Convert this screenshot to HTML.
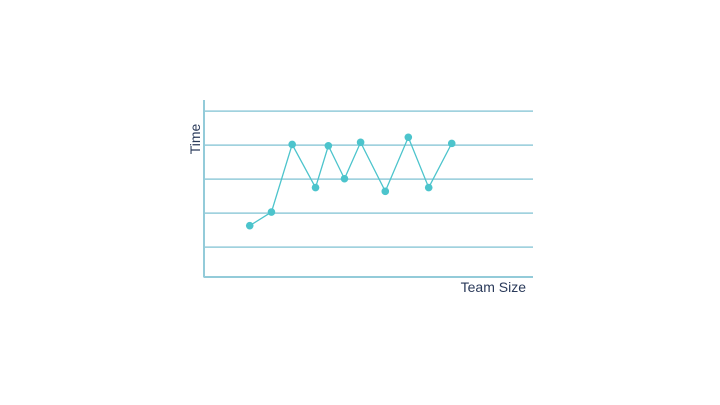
<!DOCTYPE html>
<html><head><meta charset="utf-8"><style>
html,body{margin:0;padding:0;background:#fff;width:720px;height:405px;overflow:hidden}
text{font-family:"Liberation Sans",sans-serif;fill:#2a3a5a}
</style></head><body>
<svg width="720" height="405">
<g id="grid"></g>
<line x1="204" y1="100" x2="204" y2="277.5" stroke="#93cbd9" stroke-width="2"/>
<line x1="204" y1="277" x2="533" y2="277" stroke="#93cbd9" stroke-width="2"/>
<text x="526" y="292" font-size="14" text-anchor="end">Team Size</text>
<text transform="translate(200,139) rotate(-90)" font-size="14" text-anchor="middle">Time</text>
<g id="series"></g>
</svg>
<script>
const gridValues=[0.88,1.88,2.88,3.88,4.88];
const xValues=[13.9,20.5,26.8,33.9,37.8,42.7,47.6,55.1,62.1,68.3,75.3];
const yValues=[1.51,1.91,3.90,2.63,3.86,2.89,3.96,2.52,4.11,2.63,3.93];
const ns="http://www.w3.org/2000/svg";
const sx=v=>204+v*3.29;
const sy=v=>277-v*34;
const grid=document.getElementById('grid');
gridValues.forEach(g=>{
  const l=document.createElementNS(ns,'line');
  l.setAttribute('x1',204);l.setAttribute('x2',533);
  l.setAttribute('y1',sy(g));l.setAttribute('y2',sy(g));
  l.setAttribute('stroke','#93cbd9');l.setAttribute('stroke-width','1.5');
  
  
  grid.appendChild(l);
});
const s=document.getElementById('series');
const p=document.createElementNS(ns,'polyline');
p.setAttribute('points',xValues.map((x,i)=>sx(x)+','+sy(yValues[i])).join(' '));
p.setAttribute('fill','none');p.setAttribute('stroke','#4cc4cc');p.setAttribute('stroke-width','1.3');


s.appendChild(p);
xValues.forEach((x,i)=>{
  const c=document.createElementNS(ns,'circle');
  c.setAttribute('cx',sx(x));c.setAttribute('cy',sy(yValues[i]));c.setAttribute('r',3.8);
  c.setAttribute('fill','#4cc4cc');
  
  
  s.appendChild(c);
});
</script>
</body></html>
